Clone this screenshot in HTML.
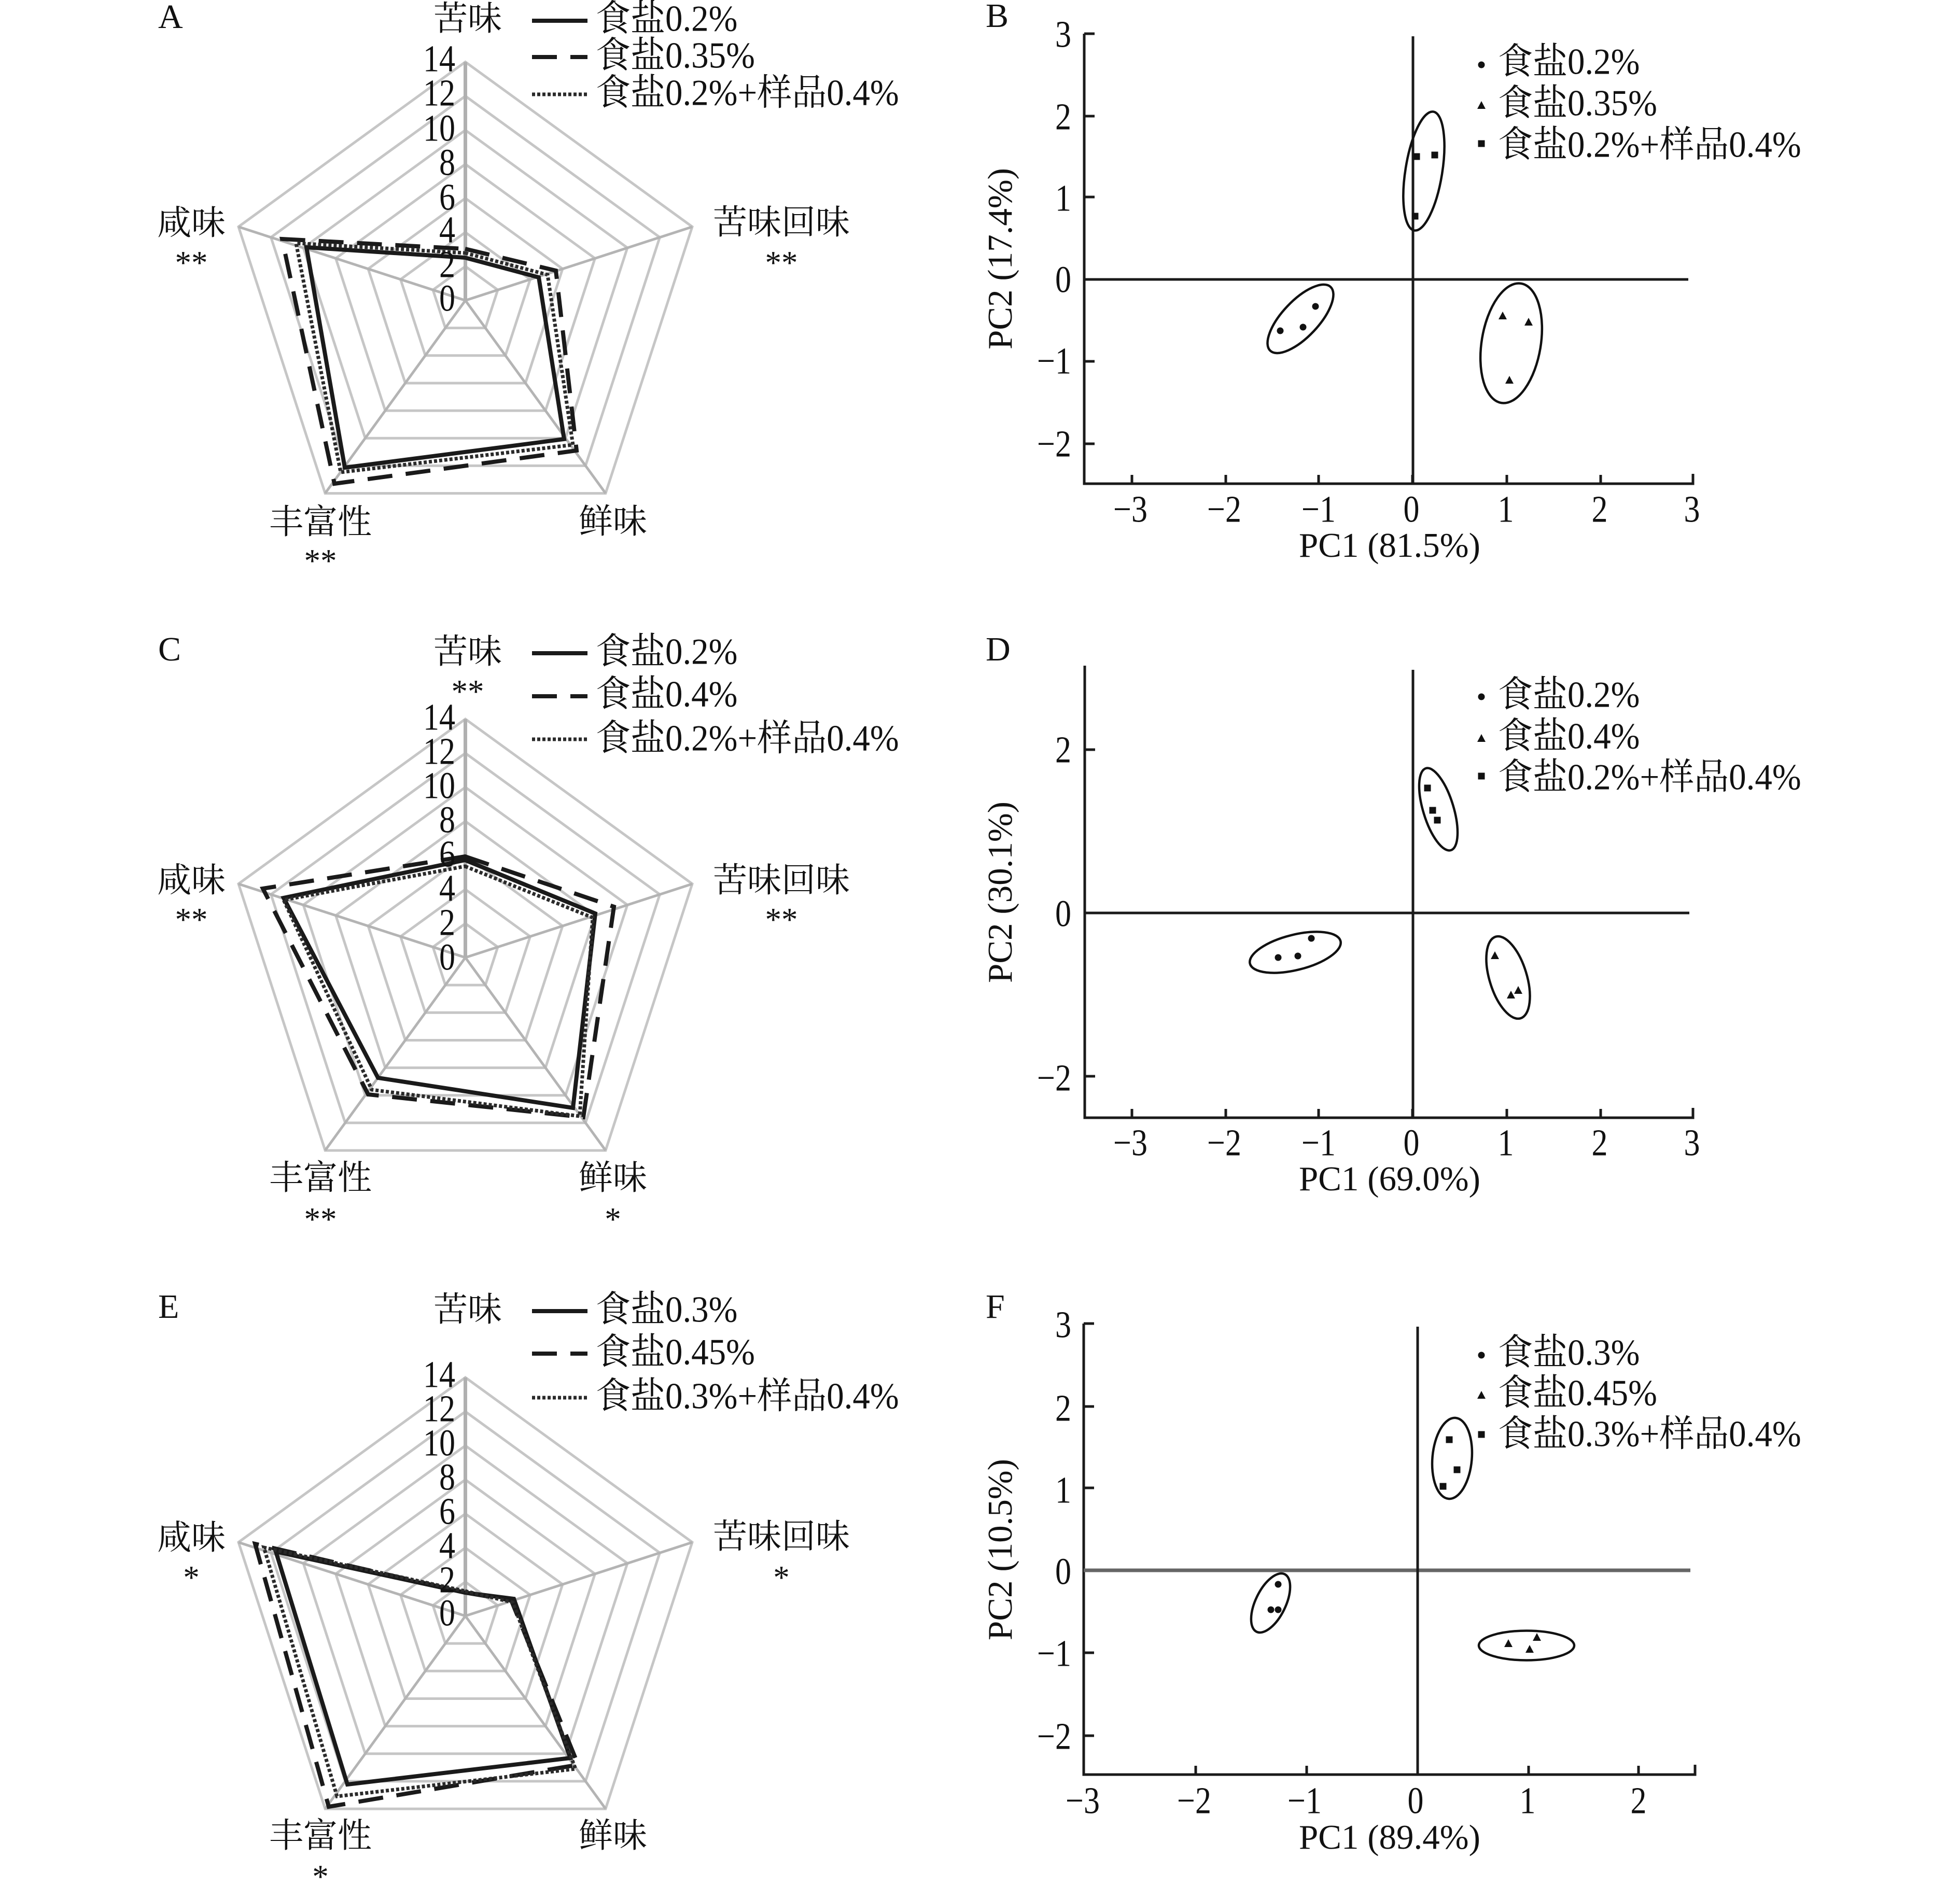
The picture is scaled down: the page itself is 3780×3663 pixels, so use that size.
<!DOCTYPE html>
<html><head><meta charset="utf-8">
<style>
html,body{margin:0;padding:0;background:#fff}
svg{display:block}
text{font-family:"Liberation Serif","Noto Serif CJK SC",serif;fill:#111;font-size:66px}
.m{text-anchor:middle}
.e{text-anchor:end}
.n{font-size:62px;transform-box:fill-box;transform-origin:center;transform:scaleY(1.18)}
.a{font-size:63px;transform:translateY(4px)}
.k{font-size:66px}
.l{font-size:67px;transform-box:fill-box;transform-origin:center;transform:scaleY(1.06)}
.x{font-size:67px}
.g polygon,.g line{fill:none;stroke:#c6c6c6;stroke-width:5;vector-effect:non-scaling-stroke}
.sol{fill:none;stroke:#1a1a1a;stroke-width:8;stroke-linejoin:miter}
.das{fill:none;stroke:#1a1a1a;stroke-width:8;stroke-dasharray:48,26}
.dot{fill:none;stroke:#2a2a2a;stroke-width:7;stroke-dasharray:6,4}
.ax{stroke:#1a1a1a;stroke-width:5;fill:none}
.el{stroke:#111;stroke-width:4.5;fill:none}
</style></head><body>
<svg xmlns="http://www.w3.org/2000/svg" width="3780" height="3663" viewBox="0 0 3780 3663">
<rect width="3780" height="3663" fill="#fff"/>
<defs>
<g id="grid" class="g">
<polygon transform="scale(65.7)" points="0,-1 .9511,-.309 .5878,.809 -.5878,.809 -.9511,-.309"/>
<polygon transform="scale(131.4)" points="0,-1 .9511,-.309 .5878,.809 -.5878,.809 -.9511,-.309"/>
<polygon transform="scale(197.1)" points="0,-1 .9511,-.309 .5878,.809 -.5878,.809 -.9511,-.309"/>
<polygon transform="scale(262.8)" points="0,-1 .9511,-.309 .5878,.809 -.5878,.809 -.9511,-.309"/>
<polygon transform="scale(328.5)" points="0,-1 .9511,-.309 .5878,.809 -.5878,.809 -.9511,-.309"/>
<polygon transform="scale(394.2)" points="0,-1 .9511,-.309 .5878,.809 -.5878,.809 -.9511,-.309"/>
<polygon transform="scale(460)" points="0,-1 .9511,-.309 .5878,.809 -.5878,.809 -.9511,-.309"/>
<line x1="0" y1="0" x2="437.5" y2="-142" style="stroke:#b4b4b4"/>
<line x1="0" y1="0" x2="270.4" y2="372" style="stroke:#b4b4b4"/>
<line x1="0" y1="0" x2="-270.4" y2="372" style="stroke:#b4b4b4"/>
<line x1="0" y1="0" x2="-437.5" y2="-142" style="stroke:#b4b4b4"/>
<line x1="0" y1="0" x2="0" y2="-460" style="stroke:#b0b0b0;stroke-width:7"/>
</g>
<rect id="sq" x="-6.5" y="-6.5" width="13" height="13" fill="#111"/>
<circle id="ci" r="6.5" fill="#111"/>
<polygon id="tr" points="0,-8 8,7 -8,7" fill="#111"/>
</defs>

<!-- A -->
<use href="#grid" x="897.5" y="579.5"/>
<polygon class="das" points="897,480 1072,522 1112,869 645,933 544,461"/>
<polygon class="sol" points="897,497 1039,535 1088,847 665,902 591,477"/>
<polygon class="dot" points="897,488 1056,530 1105,858 657,911 571,469"/>
<text class="e n" x="878" y="134">14</text><text class="e n" x="878" y="200">12</text><text class="e n" x="878" y="268">10</text><text class="e n" x="878" y="334">8</text><text class="e n" x="878" y="401">6</text><text class="e n" x="878" y="464">4</text><text class="e n" x="878" y="531">2</text><text class="e n" x="878" y="596">0</text>
<text x="305" y="54" class="k">A</text>
<text class="m" x="902" y="58">苦味</text>
<text class="m" x="369" y="452">咸味</text><text class="m a" x="369" y="524">**</text>
<text class="m" x="1507" y="451">苦味回味</text><text class="m a" x="1507" y="524">**</text>
<text class="m" x="1182" y="1028">鲜味</text>
<text class="m" x="618" y="1029">丰富性</text><text class="m a" x="618" y="1099">**</text>
<line class="sol" x1="1026" x2="1133" y1="40" y2="40"/><line class="das" x1="1026" x2="1133" y1="110" y2="110"/><line class="dot" x1="1026" x2="1133" y1="182" y2="182"/>
<text class="l" x="1149" y="58">食盐0.2%</text><text class="l" x="1149" y="129">食盐0.35%</text><text class="l" x="1149" y="201">食盐0.2%+样品0.4%</text>

<!-- C -->
<use href="#grid" x="897.5" y="1847"/>
<polygon class="das" points="897,1652 1184,1749 1125,2155 710,2111 507,1714"/>
<polygon class="sol" points="897,1659 1148,1762 1105,2137 729,2079 547,1732"/>
<polygon class="dot" points="897,1671 1143,1770 1118,2153 717,2102 547,1736"/>
<text class="e n" x="878" y="1404">14</text><text class="e n" x="878" y="1470">12</text><text class="e n" x="878" y="1536">10</text><text class="e n" x="878" y="1602">8</text><text class="e n" x="878" y="1668">6</text><text class="e n" x="878" y="1734">4</text><text class="e n" x="878" y="1800">2</text><text class="e n" x="878" y="1867">0</text>
<text x="305" y="1274" class="k">C</text>
<text class="m" x="902" y="1279">苦味</text><text class="m a" x="902" y="1351">**</text>
<text class="m" x="369" y="1720">咸味</text><text class="m a" x="369" y="1791">**</text>
<text class="m" x="1507" y="1720">苦味回味</text><text class="m a" x="1507" y="1791">**</text>
<text class="m" x="1182" y="2294">鲜味</text><text class="m a" x="1182" y="2369">*</text>
<text class="m" x="618" y="2294">丰富性</text><text class="m a" x="618" y="2369">**</text>
<line class="sol" x1="1026" x2="1133" y1="1260" y2="1260"/><line class="das" x1="1026" x2="1133" y1="1343" y2="1343"/><line class="dot" x1="1026" x2="1133" y1="1426" y2="1426"/>
<text class="l" x="1149" y="1279">食盐0.2%</text><text class="l" x="1149" y="1361">食盐0.4%</text><text class="l" x="1149" y="1446">食盐0.2%+样品0.4%</text>

<!-- E -->
<use href="#grid" x="897.5" y="3117"/>
<polygon class="das" points="897,3072 986,3087 1115,3404 634,3485 492,2978"/>
<polygon class="sol" points="897,3072 991,3084 1100,3391 670,3442 532,2993"/>
<polygon class="dot" points="897,3069 989,3091 1110,3412 650,3465 509,2985"/>
<text class="e n" x="878" y="2672">14</text><text class="e n" x="878" y="2738">12</text><text class="e n" x="878" y="2804">10</text><text class="e n" x="878" y="2870">8</text><text class="e n" x="878" y="2936">6</text><text class="e n" x="878" y="3002">4</text><text class="e n" x="878" y="3068">2</text><text class="e n" x="878" y="3132">0</text>
<text x="305" y="2542" class="k">E</text>
<text class="m" x="902" y="2548">苦味</text>
<text class="m" x="369" y="2988">咸味</text><text class="m a" x="369" y="3060">*</text>
<text class="m" x="1507" y="2986">苦味回味</text><text class="m a" x="1507" y="3060">*</text>
<text class="m" x="1182" y="3563">鲜味</text>
<text class="m" x="618" y="3563">丰富性</text><text class="m a" x="618" y="3637">*</text>
<line class="sol" x1="1026" x2="1133" y1="2529" y2="2529"/><line class="das" x1="1026" x2="1133" y1="2611" y2="2611"/><line class="dot" x1="1026" x2="1133" y1="2696" y2="2696"/>
<text class="l" x="1149" y="2548">食盐0.3%</text><text class="l" x="1149" y="2630">食盐0.45%</text><text class="l" x="1149" y="2715">食盐0.3%+样品0.4%</text>

<!-- B -->
<path class="ax" d="M2091,65V933H3265V914M2183,933V916M2364,933V916M2543,933V916M2724,933V916M2906,933V916M3087,933V916M2091,65H2111M2091,224H2111M2091,380H2111M2091,697H2111M2091,856H2111"/>
<path class="ax" d="M2091,539H3256M2725,70V933"/>
<text class="e n" x="2066" y="87">3</text><text class="e n" x="2066" y="246">2</text><text class="e n" x="2066" y="403">1</text><text class="e n" x="2066" y="560">0</text><text class="e n" x="2066" y="717">−1</text><text class="e n" x="2066" y="877">−2</text>
<text class="m n" x="2180" y="1003">−3</text><text class="m n" x="2361" y="1003">−2</text><text class="m n" x="2543" y="1003">−1</text><text class="m n" x="2722" y="1003">0</text><text class="m n" x="2904" y="1003">1</text><text class="m n" x="3085" y="1003">2</text><text class="m n" x="3263" y="1003">3</text>
<text class="m x" x="2680" y="1074">PC1 (81.5%)</text>
<text class="m x" transform="translate(1951,499) rotate(-90)">PC2 (17.4%)</text>
<text x="1901" y="52" class="k">B</text>
<ellipse class="el" cx="2746" cy="330" rx="35.5" ry="116" transform="rotate(9.1 2746 330)"/>
<ellipse class="el" cx="2508" cy="615" rx="84.7" ry="35" transform="rotate(-46.6 2508 615)"/>
<ellipse class="el" cx="2914.5" cy="662" rx="57" ry="116.7" transform="rotate(9.4 2914.5 662)"/>
<use href="#sq" x="2732" y="302"/><use href="#sq" x="2767" y="299"/><use href="#sq" x="2729" y="417"/>
<use href="#ci" x="2537" y="591"/><use href="#ci" x="2513" y="631"/><use href="#ci" x="2469" y="638"/>
<use href="#tr" x="2898" y="609"/><use href="#tr" x="2948" y="621"/><use href="#tr" x="2911" y="733"/>
<use href="#ci" x="2857" y="125"/><use href="#tr" x="2857" y="203"/><use href="#sq" x="2857" y="277"/>
<text class="l" x="2889" y="141">食盐0.2%</text><text class="l" x="2889" y="221">食盐0.35%</text><text class="l" x="2889" y="301">食盐0.2%+样品0.4%</text>

<!-- D -->
<path class="ax" d="M2092,1284V2156H3265V2137M2183,2156V2139M2364,2156V2139M2543,2156V2139M2724,2156V2139M2906,2156V2139M3087,2156V2139M2092,1446H2112M2092,2076H2112"/>
<path class="ax" d="M2092,1761H3258M2725,1292V2156"/>
<text class="e n" x="2066" y="1467">2</text><text class="e n" x="2066" y="1783">0</text><text class="e n" x="2066" y="2100">−2</text>
<text class="m n" x="2180" y="2225">−3</text><text class="m n" x="2361" y="2225">−2</text><text class="m n" x="2543" y="2225">−1</text><text class="m n" x="2722" y="2225">0</text><text class="m n" x="2904" y="2225">1</text><text class="m n" x="3085" y="2225">2</text><text class="m n" x="3263" y="2225">3</text>
<text class="m x" x="2680" y="2296">PC1 (69.0%)</text>
<text class="m x" transform="translate(1951,1721) rotate(-90)">PC2 (30.1%)</text>
<text x="1901" y="1274" class="k">D</text>
<ellipse class="el" cx="2498" cy="1837" rx="90" ry="34" transform="rotate(-14 2498 1837)"/>
<ellipse class="el" cx="2774" cy="1561" rx="29.3" ry="82.6" transform="rotate(-17 2774 1561)"/>
<ellipse class="el" cx="2908.5" cy="1885.5" rx="36" ry="82.3" transform="rotate(-17 2908.5 1885.5)"/>
<use href="#ci" x="2529" y="1810"/><use href="#ci" x="2503" y="1844"/><use href="#ci" x="2465" y="1847"/>
<use href="#sq" x="2753" y="1520"/><use href="#sq" x="2763" y="1563"/><use href="#sq" x="2772" y="1582"/>
<use href="#tr" x="2883" y="1843"/><use href="#tr" x="2914" y="1919"/><use href="#tr" x="2928" y="1910"/>
<use href="#ci" x="2857" y="1344"/><use href="#tr" x="2857" y="1424"/><use href="#sq" x="2857" y="1497"/>
<text class="l" x="2889" y="1362">食盐0.2%</text><text class="l" x="2889" y="1442">食盐0.4%</text><text class="l" x="2889" y="1521">食盐0.2%+样品0.4%</text>

<!-- F -->
<path class="ax" d="M2090,2553V3423H3269V3404M2306,3423V3406M2520,3423V3406M2948,3423V3406M3160,3423V3406M2090,2553H2110M2090,2713H2110M2090,2870H2110M2090,3188H2110M2090,3348H2110"/>
<path d="M2090,3029H3260" stroke="#666" stroke-width="7" fill="none"/>
<path class="ax" d="M2734,2559V3423"/>
<text class="e n" x="2066" y="2576">3</text><text class="e n" x="2066" y="2737">2</text><text class="e n" x="2066" y="2895">1</text><text class="e n" x="2066" y="3052">0</text><text class="e n" x="2066" y="3210">−1</text><text class="e n" x="2066" y="3370">−2</text>
<text class="m n" x="2088" y="3494">−3</text><text class="m n" x="2303" y="3494">−2</text><text class="m n" x="2516" y="3494">−1</text><text class="m n" x="2730" y="3494">0</text><text class="m n" x="2946" y="3494">1</text><text class="m n" x="3160" y="3494">2</text>
<text class="m x" x="2680" y="3566">PC1 (89.4%)</text>
<text class="m x" transform="translate(1951,2989) rotate(-90)">PC2 (10.5%)</text>
<text x="1901" y="2542" class="k">F</text>
<ellipse class="el" cx="2800.5" cy="2813" rx="38" ry="78.3" transform="rotate(5 2800.5 2813)"/>
<ellipse class="el" cx="2450.5" cy="3092" rx="29" ry="61.8" transform="rotate(26 2450.5 3092)"/>
<ellipse class="el" cx="2944" cy="3174" rx="92" ry="28.5"/>
<use href="#sq" x="2795" y="2777"/><use href="#sq" x="2810" y="2835"/><use href="#sq" x="2783" y="2867"/>
<use href="#ci" x="2465" y="3056"/><use href="#ci" x="2451" y="3105"/><use href="#ci" x="2465" y="3105"/>
<use href="#tr" x="2909" y="3170"/><use href="#tr" x="2964" y="3158"/><use href="#tr" x="2950" y="3181"/>
<use href="#ci" x="2857" y="2614"/><use href="#tr" x="2857" y="2691"/><use href="#sq" x="2857" y="2767"/>
<text class="l" x="2889" y="2631">食盐0.3%</text><text class="l" x="2889" y="2709">食盐0.45%</text><text class="l" x="2889" y="2788">食盐0.3%+样品0.4%</text>
</svg>
</body></html>
